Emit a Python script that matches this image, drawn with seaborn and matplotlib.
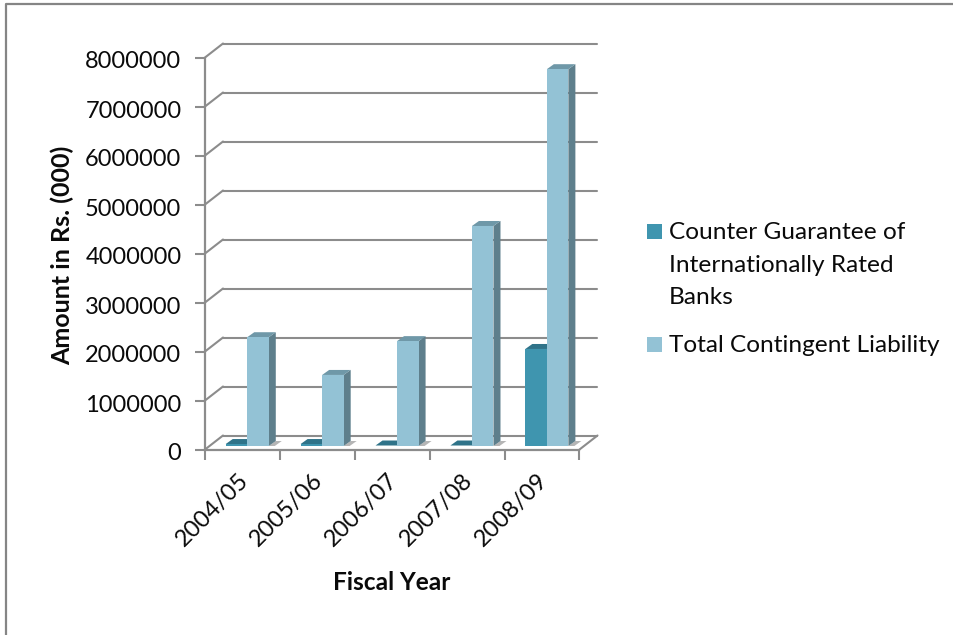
import matplotlib
matplotlib.use("Agg")
import matplotlib.pyplot as plt
from matplotlib.lines import Line2D
from matplotlib.patches import Polygon, Rectangle
from matplotlib.transforms import IdentityTransform, ScaledTranslation
import pandas as pd
import seaborn as sns

# Contingent liability figures, Rs. thousand
years = ["2004/05", "2005/06", "2006/07", "2007/08", "2008/09"]
counter_guarantee = [40000, 40000, 10000, 10000, 1980000]
total_contingent = [2220000, 1450000, 2140000, 4490000, 7690000]
series_names = ["Counter Guarantee of\nInternationally Rated\nBanks", "Total Contingent Liability"]
y_ticks = [0, 1000000, 2000000, 3000000, 4000000, 5000000, 6000000, 7000000, 8000000]

FRONT = {"dark": "#3F95AF", "light": "#93C2D5"}
SIDE = {"dark": "#2C6B7E", "light": "#5E7F8C"}
TOP = {"dark": "#2F7389", "light": "#6F98A8"}
GRID = "#8C8C8C"
INK = "#0A0A0A"
W, H = 954, 635
DPI = 100

sns.set_theme(style="white")
plt.rcParams["font.family"] = ["Lato", "DejaVu Sans"]

fig = plt.figure(figsize=(W / DPI, H / DPI), dpi=DPI, facecolor="white")


def box(left, top, right, bottom):
    return [left / W, 1 - bottom / H, (right - left) / W, (bottom - top) / H]


def shifted(ax, dx, dy):
    """Data transform nudged by a pixel offset (dy positive = up)."""
    return ax.transData + ScaledTranslation(dx / DPI, dy / DPI, fig.dpi_scale_trans)


def to_px(x, y, tf):
    return tuple(tf.transform((x, y)))


def wall_line(ax, start, end, start_tf, end_tf):
    """Grey line between two data points that live on different wall planes."""
    ax.add_line(Line2D(*zip(to_px(*start, start_tf), to_px(*end, end_tf)), color=GRID, lw=1.5,
                       transform=IdentityTransform(), clip_on=False, zorder=1))


# Chart frame: only the top and left edges fall inside the canvas
fig.add_artist(Line2D([6.5 / W, 6.5 / W, 1], [0, 1 - 3.5 / H, 1 - 3.5 / H],
                      color="#858585", lw=1.6, transform=fig.transFigure))

ax = fig.add_axes(box(205, 57.5, 579.5, 449.5))
ax.patch.set_alpha(0)

df = pd.DataFrame({
    "year": years * 2,
    "amount": counter_guarantee + total_contingent,
    "series": [series_names[0]] * len(years) + [series_names[1]] * len(years),
})
sns.barplot(data=df, x="year", y="amount", hue="series", ax=ax, order=years,
            hue_order=series_names, palette=[FRONT["dark"], FRONT["light"]],
            width=0.575, gap=0, saturation=1, legend=False, zorder=5)
ax.set_xlim(-0.5, 4.5)
ax.set_ylim(0, 8000000)
ax.grid(False)
ax.set_xlabel("")
ax.set_ylabel("")

# Back wall, side wall and floor of the box behind the bars
back = shifted(ax, 18, 14)
for v in y_ticks:
    wall_line(ax, (-0.5, v), (4.5, v), back, back)
    wall_line(ax, (-0.5, v), (-0.5, v), ax.transData, back)
wall_line(ax, (4.5, 0), (4.5, 0), ax.transData, back)

# Lift the bars onto the floor and add their top and side faces
bar_tf = shifted(ax, 4.8, 3.5)
depth_tf = shifted(ax, 11.8, 8.5)
for i, patch in enumerate(ax.patches):
    tone = "dark" if i < len(years) else "light"
    left, right = patch.get_x(), patch.get_x() + patch.get_width()
    top = patch.get_height()
    patch.set_transform(bar_tf)
    patch.set_linewidth(0)

    side = [to_px(right, 0, bar_tf), to_px(right, top, bar_tf),
            to_px(right, top, depth_tf), to_px(right, 0, depth_tf)]
    cap = [to_px(left, top, bar_tf), to_px(right, top, bar_tf),
           to_px(right, top, depth_tf), to_px(left, top, depth_tf)]
    for face, color in ((side, SIDE[tone]), (cap, TOP[tone])):
        ax.add_patch(Polygon(face, closed=True, transform=IdentityTransform(), facecolor=color,
                             edgecolor="none", zorder=4, clip_on=False))
    if tone == "light":
        # Soft shadow on the floor to the right of each pair of bars
        base_a = to_px(right, 0, depth_tf)
        base_b = to_px(right, 0, bar_tf)
        shadow = [base_b, base_a, (base_a[0] + 6, base_a[1]), (base_b[0] + 6, base_b[1])]
        ax.add_patch(Polygon(shadow, closed=True, transform=IdentityTransform(),
                             facecolor="#B5B5B5", edgecolor="none", zorder=3, clip_on=False))

# Axes styling
for name in ("top", "right"):
    ax.spines[name].set_visible(False)
for name in ("left", "bottom"):
    ax.spines[name].set_color(GRID)
    ax.spines[name].set_linewidth(1.6)

ax.set_yticks(y_ticks, [str(v) for v in y_ticks])
ax.set_xticks([i - 0.5 for i in range(len(years) + 1)], [""] * (len(years) + 1))
ax.tick_params(axis="both", length=7, width=1.5, color=GRID, direction="out",
               bottom=True, left=True, labelsize=17, labelcolor=INK)
ax.tick_params(axis="y", pad=10)
for tick_label in ax.get_yticklabels():
    tick_label.set_transform(tick_label.get_transform()
                             + ScaledTranslation(0, -2.5 / DPI, fig.dpi_scale_trans))

# Category names rotated about their upper right corner
for i, label in enumerate(years):
    ax.annotate(label, xy=(i, 0), xycoords=ax.get_xaxis_transform(), xytext=(-5, -20),
                textcoords="offset pixels", rotation=45, rotation_mode="anchor", ha="right",
                va="top", fontsize=17, color=INK)

fig.text(62 / W, 1 - 255 / H, "Amount in Rs. (000)", rotation=90, ha="center", va="center",
         fontsize=18, fontweight="bold", color=INK)
fig.text(392 / W, 1 - 583 / H, "Fiscal Year", ha="center", va="center",
         fontsize=17.6, fontweight="bold", color=INK)

# Legend entries
legend_rows = [(224, FRONT["dark"], series_names[0]), (337, FRONT["light"], series_names[1])]
for top_px, color, name in legend_rows:
    fig.add_artist(Rectangle((647 / W, 1 - (top_px + 15) / H), 15 / W, 15 / H, facecolor=color,
                             edgecolor="none", transform=fig.transFigure))
    fig.text(669 / W, 1 - (top_px - 2) / H, name, ha="left", va="top", fontsize=17.6,
             color=INK, linespacing=1.68)

fig.savefig("out.png", dpi=DPI, facecolor="white")
